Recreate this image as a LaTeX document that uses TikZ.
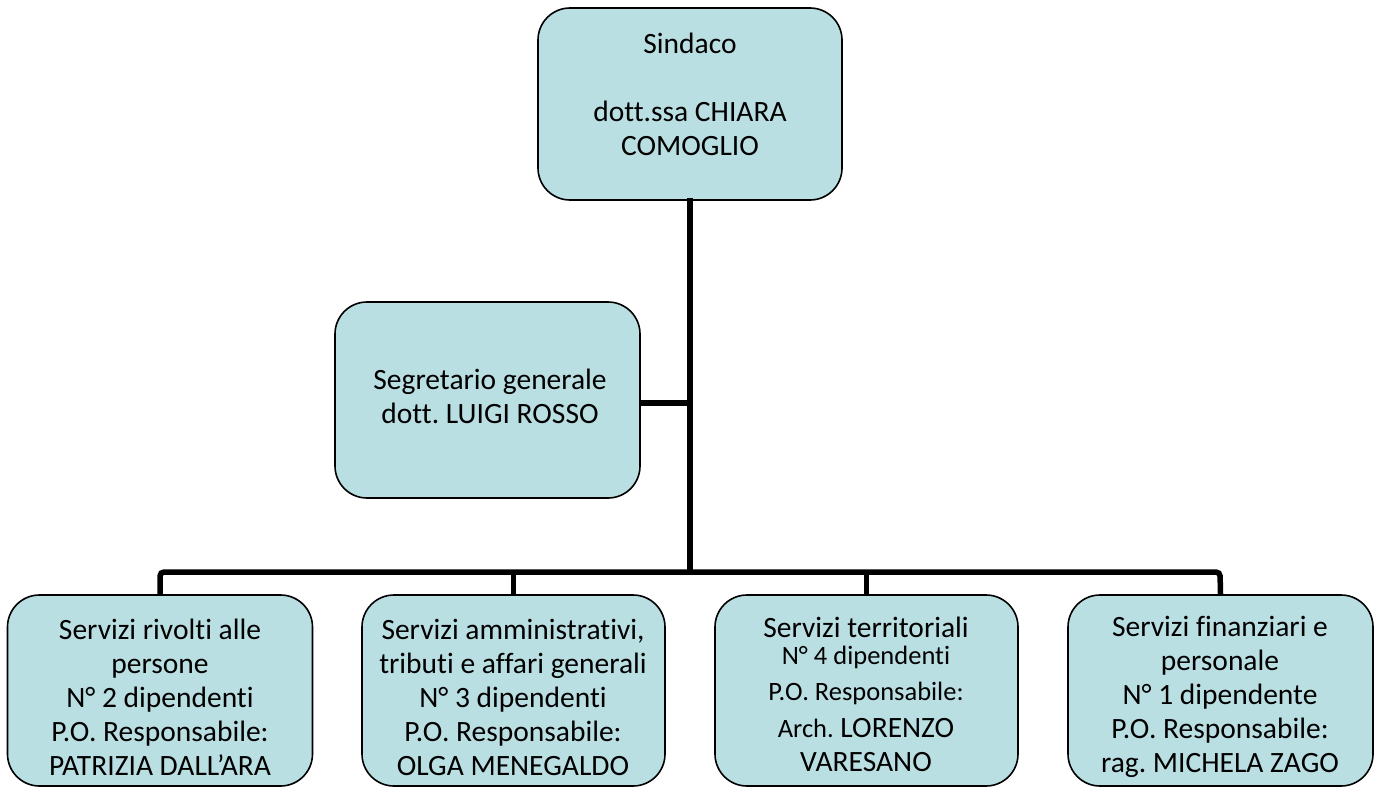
\documentclass[tikz,border=0pt]{standalone}
\usepackage{fontspec}
\setmainfont{Carlito}[Ligatures=NoCommon]
\frenchspacing
\definecolor{boxfill}{HTML}{BADFE3}
\begin{document}
\begin{tikzpicture}[x=1pt,y=-1pt,
  orgbox/.style={draw=black, line width=1.6pt, fill=boxfill, rounded corners=32pt, inner sep=0pt},
  orgtext/.style={align=center, font=\fontsize{29.5}{34}\selectfont, inner sep=0pt},
  conn/.style={line width=5.5pt, line cap=rect}]
\useasboundingbox (0,0) rectangle (1380,789);
% boxes
\node[orgbox, minimum width=304pt, minimum height=192pt] (sind) at (690,104) {};
\node[orgbox, minimum width=305pt, minimum height=196pt] (segr) at (487.5,400) {};
\node[orgbox, minimum width=305pt, minimum height=191pt] (b1) at (160,690.5) {};
\node[orgbox, minimum width=303pt, minimum height=191pt] (b2) at (513.5,690.5) {};
\node[orgbox, minimum width=303pt, minimum height=191pt] (b3) at (866.5,690.5) {};
\node[orgbox, minimum width=305pt, minimum height=191pt] (b4) at (1220.5,690.5) {};
% texts
\node[orgtext] (tsind) at (690,94) {Sindaco\\[34pt]dott.ssa CHIARA\\COMOGLIO};
\node[orgtext] (tsegr) at (490,396) {Segretario generale\\dott. LUIGI ROSSO};
\node[orgtext] (t1) at (160,697) {Servizi rivolti alle\\persone\\N° 2 dipendenti\\P.O. Responsabile:\\PATRIZIA DALL’ARA};
\node[orgtext] (t2) at (513,697) {Servizi amministrativi,\\tributi e affari generali\\N° 3 dipendenti\\P.O. Responsabile:\\OLGA MENEGALDO};
\node[orgtext] (t3) at (866,694) {Servizi territoriali\\[-7pt]{\fontsize{26.5}{30}\selectfont N° 4 dipendenti}\\[2pt]{\fontsize{26.5}{30}\selectfont P.O. Responsabile:}\\[3pt]{\fontsize{26.5}{30}\selectfont Arch.} LORENZO\\VARESANO};
\node[orgtext] (t4) at (1220,697) {Servizi finanziari e\\personale\\N° 1 dipendente\\P.O. Responsabile:\\rag. MICHELA ZAGO};
% connectors
\coordinate (busL) at (160,572);
\coordinate (busR) at (1220,572);
\coordinate (busM) at (690,572);
\coordinate (segrJ) at (690,403);
\draw[conn] (sind.south) -- (busM);
\draw[conn, line cap=butt] (segr.east |- segrJ) -- (segrJ);
\draw[conn, line cap=butt, rounded corners=4pt] (b1.north) -- (busL) -- (busR) -- (b4.north);
\draw[conn, line cap=butt] (b2.north) -- (b2.north |- busL);
\draw[conn, line cap=butt] (b3.north) -- (b3.north |- busL);
\end{tikzpicture}
\end{document}
